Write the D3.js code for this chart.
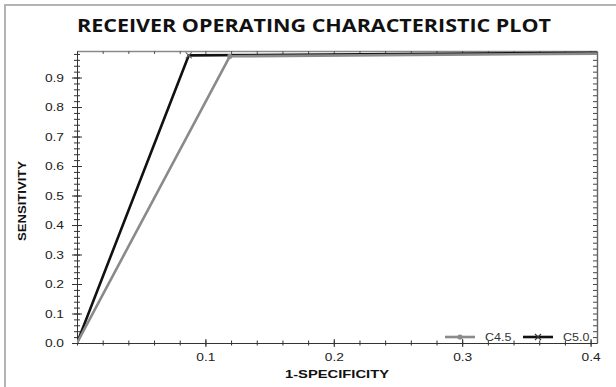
<!DOCTYPE html>
<html>
<head>
<meta charset="utf-8">
<script src="https://cdn.jsdelivr.net/npm/d3@7"></script>
<style>
  body { margin: 0; background: #fff; }
  text { font-family: "Liberation Sans", Arial, sans-serif; }
  text.title { font-family: "Open Sans", sans-serif; }
</style>
</head>
<body>
<div id="chart"></div>
<script>
// ROC points (1-specificity, sensitivity) for each classifier
const seriesNames = ['C4.5', 'C5.0'];
const fprC45 = [0, 0.119, 1];
const tprC45 = [0, 0.972, 1];
const fprC50 = [0, 0.087, 1];
const tprC50 = [0, 0.975, 1];
const xTickLabels = [0.1, 0.2, 0.3, 0.4];
const yTickLabels = [0, 0.1, 0.2, 0.3, 0.4, 0.5, 0.6, 0.7, 0.8, 0.9];

const W = 616, H = 387;
const pLeft = 77, pRight = 597, pTop = 51, pBottom = 343;
const sx = 1.25; // the picture is a bit wider than tall, text too

const svg = d3.select('#chart')
  .append('svg')
    .attr('width', W)
    .attr('height', H)
    .style('background-color', '#fff');

// outer frame (only top and left show)
svg.append('line').attr('x1', 4).attr('x2', W).attr('y1', 5).attr('y2', 5)
  .attr('stroke', '#b4b4b4').attr('stroke-width', 2);
svg.append('line').attr('x1', 5).attr('x2', 5).attr('y1', 4).attr('y2', H)
  .attr('stroke', '#b4b4b4').attr('stroke-width', 2);

const x = d3.scaleLinear().domain([0, 0.405]).range([pLeft, pRight]);
const y = d3.scaleLinear().domain([0, 0.99]).range([pBottom, pTop]);

const xMinor = d3.range(0, 21).map(i => i * 0.02).filter(v => v <= 0.405);
const yMinor = d3.range(0, 50).map(i => i * 0.02).filter(v => v <= 0.99);

// title
svg.append('text')
  .attr('class', 'title')
  .attr('x', 314).attr('y', 32)
  .attr('text-anchor', 'middle')
  .attr('font-weight', 'bold')
  .attr('font-size', 18)
  .attr('textLength', 474)
  .attr('lengthAdjust', 'spacingAndGlyphs')
  .attr('fill', '#111')
  .text('RECEIVER OPERATING CHARACTERISTIC PLOT');

// top border with small inner ticks
svg.append('g')
    .attr('transform', `translate(0,${pTop})`)
    .call(d3.axisBottom(x).tickValues(xMinor).tickSize(3).tickSizeOuter(0).tickFormat(''))
    .call(g => {
      g.select('.domain').attr('stroke', '#8a8a8a').attr('stroke-width', 1.6);
      g.selectAll('.tick line').attr('stroke', '#555');
    });

// right border with inner ticks
svg.append('g')
    .attr('transform', `translate(${pRight},0)`)
    .call(d3.axisLeft(y).tickValues(yMinor).tickSize(4).tickSizeOuter(0).tickFormat(''))
    .call(g => {
      g.select('.domain').attr('stroke', '#666').attr('stroke-width', 1.4);
      g.selectAll('.tick line').attr('stroke', '#444');
    });

// bottom axis: minor ticks crossing the line
svg.append('g')
    .attr('transform', `translate(0,${pBottom})`)
    .call(d3.axisBottom(x).tickValues(xMinor).tickSizeOuter(0).tickFormat(''))
    .call(g => {
      g.select('.domain').attr('stroke', '#333');
      g.selectAll('.tick line').attr('y1', -2.5).attr('y2', 2.5).attr('stroke', '#333');
    });

// bottom axis: major ticks and labels
svg.append('g')
    .attr('transform', `translate(0,${pBottom})`)
    .call(d3.axisBottom(x).tickValues(xTickLabels).tickFormat(d3.format('.1f')))
    .call(g => {
      g.select('.domain').remove();
      g.selectAll('.tick line').attr('y1', -4).attr('y2', 4).attr('stroke', '#333');
      g.selectAll('.tick text')
        .attr('y', 18).attr('dy', null)
        .attr('font-size', 11).attr('fill', '#222')
        .attr('transform', `scale(${sx},1)`);
    });

// left axis: minor ticks crossing the line
svg.append('g')
    .attr('transform', `translate(${pLeft},0)`)
    .call(d3.axisLeft(y).tickValues(yMinor).tickSizeOuter(0).tickFormat(''))
    .call(g => {
      g.select('.domain').attr('stroke', '#333');
      g.selectAll('.tick line').attr('x1', -3).attr('x2', 3).attr('stroke', '#333');
    });

// left axis: major ticks and labels
svg.append('g')
    .attr('transform', `translate(${pLeft},0)`)
    .call(d3.axisLeft(y).tickValues(yTickLabels).tickFormat(d3.format('.1f')))
    .call(g => {
      g.select('.domain').remove();
      g.selectAll('.tick line').attr('x1', -5).attr('x2', 5).attr('stroke', '#333');
      g.selectAll('.tick text')
        .attr('x', -13 / sx)
        .attr('font-size', 11).attr('fill', '#222')
        .attr('transform', `scale(${sx},1)`);
    });

// axis titles
svg.append('text')
  .attr('x', 337).attr('y', 378)
  .attr('text-anchor', 'middle')
  .attr('font-weight', 'bold')
  .attr('font-size', 11)
  .attr('textLength', 104)
  .attr('lengthAdjust', 'spacingAndGlyphs')
  .attr('fill', '#111')
  .text('1-SPECIFICITY');

svg.append('text')
  .attr('transform', 'translate(25.5,201) rotate(-90)')
  .attr('text-anchor', 'middle')
  .attr('font-weight', 'bold')
  .attr('font-size', 10)
  .attr('textLength', 80)
  .attr('lengthAdjust', 'spacingAndGlyphs')
  .attr('fill', '#111')
  .text('SENSITIVITY');

// plot lines, clipped to the plot frame
svg.append('clipPath').attr('id', 'plot-clip')
  .append('rect')
    .attr('x', pLeft).attr('y', pTop - 1)
    .attr('width', pRight - pLeft).attr('height', pBottom - pTop + 1);

const series = [
  { name: seriesNames[1], pts: fprC50.map((f, i) => [f, tprC50[i]]), color: '#111', marker: 'x' },
  { name: seriesNames[0], pts: fprC45.map((f, i) => [f, tprC45[i]]), color: '#8a8a8a', marker: 'dot' }
];

const line = d3.line().x(d => x(d[0])).y(d => y(d[1]));
const plot = svg.append('g').attr('clip-path', 'url(#plot-clip)');

plot.selectAll('path.roc')
    .data(series)
    .enter()
    .append('path')
      .attr('class', 'roc')
      .attr('d', d => line(d.pts))
      .attr('fill', 'none')
      .attr('stroke', d => d.color)
      .attr('stroke-width', 2.6)
      .attr('stroke-linejoin', 'round');

function drawMarker(g, kind, color) {
  if (kind === 'dot') {
    g.append('circle').attr('r', 2.6).attr('fill', color);
  } else {
    g.append('path').attr('d', 'M-3,-3L3,3M-3,3L3,-3')
      .attr('stroke', color).attr('stroke-width', 1.1).attr('fill', 'none');
  }
}

// markers at the operating points
series.forEach(s => {
  s.pts.filter(p => p[0] > 0 && p[0] < 1).forEach(p => {
    const g = plot.append('g').attr('transform', `translate(${x(p[0])},${y(p[1])})`);
    drawMarker(g, s.marker, s.marker === 'x' ? '#666' : s.color);
  });
});

// legend, bottom right inside the plot
const legendItems = [series[1], series[0]];
const legend = svg.append('g').attr('transform', 'translate(445,337)');
legendItems.forEach((s, i) => {
  const g = legend.append('g').attr('transform', `translate(${i * 78},0)`);
  g.append('line').attr('x1', 0).attr('x2', 30).attr('y1', 0).attr('y2', 0)
    .attr('stroke', s.color).attr('stroke-width', 2.6);
  const m = g.append('g').attr('transform', 'translate(15,0)');
  drawMarker(m, s.marker, s.marker === 'x' ? '#333' : s.color);
  g.append('text')
    .attr('x', 40 / sx).attr('y', 3.5)
    .attr('font-size', 10).attr('fill', '#333')
    .attr('transform', `scale(${sx},1)`)
    .text(s.name);
});
</script>
</body>
</html>
